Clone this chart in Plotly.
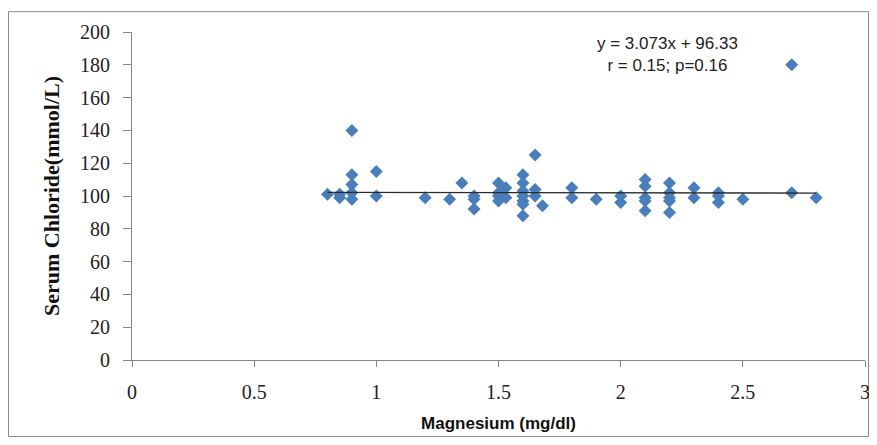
import plotly.graph_objects as go

# Magnesium (mg/dl) vs Serum Chloride (mmol/L)
magnesium = [0.80,
             0.85, 0.85,
             0.90, 0.90, 0.90, 0.90, 0.90,
             1.00, 1.00,
             1.20,
             1.30,
             1.35,
             1.40, 1.40, 1.40,
             1.50, 1.50, 1.50, 1.50,
             1.53, 1.53,
             1.60, 1.60, 1.60, 1.60, 1.60, 1.60, 1.60,
             1.65, 1.65, 1.65,
             1.68,
             1.80, 1.80,
             1.90,
             2.00, 2.00,
             2.10, 2.10, 2.10, 2.10, 2.10,
             2.20, 2.20, 2.20, 2.20, 2.20,
             2.30, 2.30,
             2.40, 2.40, 2.40,
             2.50,
             2.70, 2.70,
             2.80]
chloride = [101,
            101, 99,
            140, 113, 107, 102, 98,
            115, 100,
            99,
            98,
            108,
            100, 98, 92,
            108, 102, 100, 97,
            105, 99,
            113, 108, 103, 100, 97, 95, 88,
            125, 104, 100,
            94,
            105, 99,
            98,
            100, 96,
            110, 106, 99, 97, 91,
            108, 102, 99, 97, 90,
            105, 99,
            102, 100, 96,
            98,
            180, 102,
            99]

# Trend line as drawn in the picture
trend_x = [0.80, 2.80]
trend_y = [102.2, 101.8]

eq_text = ["y = 3.073x + 96.33", "r = 0.15; p=0.16"]

x_title = "Magnesium (mg/dl)"
y_title = "Serum Chloride(mmol/L)"

fig = go.Figure()
fig.add_trace(go.Scatter(
    x=magnesium, y=chloride, mode="markers",
    marker=dict(symbol="diamond", size=10, color="#4A7EBB", line=dict(width=0)),
    showlegend=False, hoverinfo="x+y"))
fig.add_trace(go.Scatter(
    x=trend_x, y=trend_y, mode="lines",
    line=dict(color="#2b2b2b", width=1.3),
    showlegend=False, hoverinfo="skip"))

axis_col = "#868686"
fig.update_layout(
    width=861, height=429, autosize=False,
    margin=dict(l=124, r=4, t=24, b=77, pad=0),
    paper_bgcolor="white", plot_bgcolor="white",
    xaxis=dict(range=[0, 3], dtick=0.5, tick0=0, showgrid=False, zeroline=False,
               showline=True, linecolor=axis_col, linewidth=1,
               ticks="outside", ticklen=6, tickcolor=axis_col, tickwidth=1,
               ticklabelstandoff=8, automargin=False, ticklabeloverflow="allow",
               tickfont=dict(family="Liberation Serif", size=20, color="#222"),
               title=dict(text=x_title, standoff=15,
                          font=dict(family="Liberation Sans", size=17, color="#111", weight="bold"))),
    yaxis=dict(range=[0, 200], dtick=20, tick0=0, showgrid=False, zeroline=False,
               showline=True, linecolor=axis_col, linewidth=1,
               ticks="outside", ticklen=8, tickcolor=axis_col, tickwidth=1,
               ticklabelstandoff=9, automargin=False,
               tickfont=dict(family="Liberation Serif", size=20, color="#222"),
               title=dict(text=y_title, standoff=14,
                          font=dict(family="Liberation Serif", size=22, color="#111", weight="bold"))),
    annotations=[dict(x=2.193, y=186.5, xref="x", yref="y", showarrow=False,
                      text="<br>".join(eq_text), align="center",
                      font=dict(family="Liberation Sans", size=17, color="#222"))],
    shapes=[dict(type="rect", xref="paper", yref="paper",
                 x0=-0.1685, x1=1.0048, y0=-0.2332, y1=1.062,
                 line=dict(color="#8a8a8a", width=1), fillcolor="rgba(0,0,0,0)", layer="below")],
)

fig.write_html("out.html")
